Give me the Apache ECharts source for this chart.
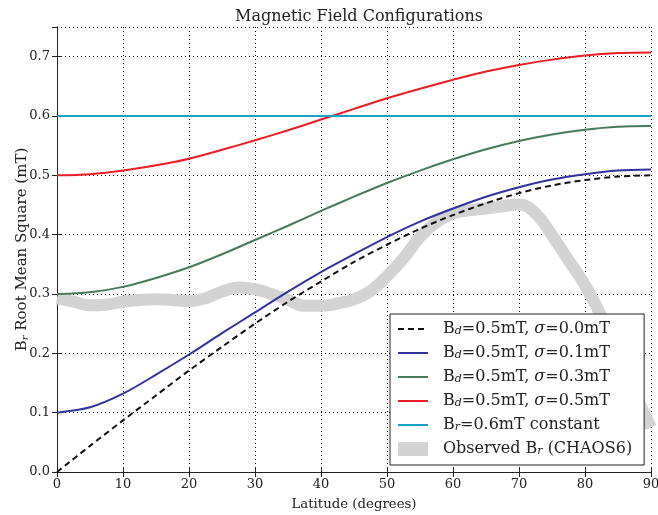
<!DOCTYPE html>
<html>
<head>
<meta charset="utf-8">
<script src="https://cdn.jsdelivr.net/npm/echarts@6/dist/echarts.min.js"></script>
<style>html,body{margin:0;padding:0;background:#fff}#c{width:658px;height:515px}</style>
</head>
<body>
<div id="c"></div>
<script>
// Latitude samples for the model curves (degrees)
const lat = [0,5,10,15,20,25,30,35,40,45,50,55,60,65,70,75,80,85,90];
// Model curves
const sig00 = [0.000,0.044,0.087,0.129,0.171,0.211,0.250,0.287,0.321,0.354,0.383,0.410,0.433,0.453,0.470,0.483,0.492,0.498,0.500];
const sig01 = [0.100,0.109,0.132,0.164,0.198,0.234,0.269,0.304,0.337,0.367,0.396,0.422,0.444,0.464,0.480,0.493,0.502,0.508,0.510];
const sig03 = [0.300,0.303,0.312,0.327,0.345,0.367,0.391,0.415,0.440,0.464,0.487,0.508,0.527,0.544,0.558,0.569,0.577,0.582,0.583];
const sig05 = [0.500,0.502,0.508,0.517,0.528,0.543,0.559,0.576,0.594,0.612,0.630,0.646,0.661,0.675,0.686,0.695,0.702,0.706,0.707];
// Constant field
const constLat = [0, 90];
const constVal = [0.6, 0.6];
// Observed (CHAOS6)
const obsLat = [0,2.5,5,7.5,10,12.5,15,17.5,20,22.5,25,27.5,30,32.5,35,37.5,40,42.5,45,47.5,50,52.5,55,57.5,60,62.5,65,67.5,70,72.5,75,77.5,80,82.5,85,87.5,90];
const obsVal = [0.293,0.287,0.281,0.282,0.287,0.290,0.291,0.290,0.288,0.293,0.304,0.311,0.308,0.300,0.290,0.280,0.280,0.284,0.291,0.305,0.330,0.360,0.396,0.421,0.436,0.441,0.444,0.448,0.451,0.436,0.399,0.357,0.315,0.262,0.200,0.135,0.075];

const xTicks = [0,10,20,30,40,50,60,70,80,90];
const yTicks = [0.0,0.1,0.2,0.3,0.4,0.5,0.6,0.7];

const names = ['Bd=0.5mT, σ=0.0mT','Bd=0.5mT, σ=0.1mT','Bd=0.5mT, σ=0.3mT','Bd=0.5mT, σ=0.5mT','Br=0.6mT constant','Observed Br (CHAOS6)'];
const richNames = {};
richNames[names[0]] = '{g|}B{sub|d}=0.5mT, {it|σ}=0.0mT';
richNames[names[1]] = '{g|}B{sub|d}=0.5mT, {it|σ}=0.1mT';
richNames[names[2]] = '{g|}B{sub|d}=0.5mT, {it|σ}=0.3mT';
richNames[names[3]] = '{g|}B{sub|d}=0.5mT, {it|σ}=0.5mT';
richNames[names[4]] = '{g|}B{sub|r}=0.6mT constant';
richNames[names[5]] = '{g|}Observed B{sub|r} (CHAOS6)';

const FONT = 'DejaVu Serif';
const pairs = (xs, ys) => xs.map((x, i) => [x, ys[i]]);

const chart = echarts.init(document.getElementById('c'), null, {renderer: 'canvas'});

function lineSeries(name, xs, ys, color, dash) {
  return {
    name: name, type: 'line', data: pairs(xs, ys), smooth: 0.3,
    showSymbol: false, symbol: 'none', z: 3,
    lineStyle: {color: color, width: 2, type: dash ? [6, 4] : 'solid'},
    itemStyle: {color: color}
  };
}

const gridLine = {show: true, lineStyle: {color: '#000', width: 1, type: [1, 3]}};
const axLine = {show: true, lineStyle: {color: '#222', width: 1}};
const axTick = {show: true, inside: true, length: 5, lineStyle: {color: '#222', width: 1}};
const hideSym = {opacity: 0};

chart.setOption({
  animation: false,
  backgroundColor: '#fff',
  title: {
    text: 'Magnetic Field Configurations', left: 354, textAlign: 'center', top: 4,
    textStyle: {fontFamily: FONT, fontSize: 16, fontWeight: 'normal', color: '#222'}
  },
  grid: {left: 57, right: 7, top: 27, bottom: 43, show: false, outerBoundsMode: 'none', containLabel: false},
  legend: {
    orient: 'vertical', left: 390, top: 314,
    padding: [7, 12, 8, 7], itemGap: 8, itemWidth: 30, itemHeight: 14,
    backgroundColor: '#fff', borderColor: '#222', borderWidth: 1,
    selectedMode: false,
    data: [
      {name: names[0], itemStyle: hideSym}, {name: names[1], itemStyle: hideSym},
      {name: names[2], itemStyle: hideSym}, {name: names[3], itemStyle: hideSym},
      {name: names[4], itemStyle: hideSym},
      {name: names[5], icon: 'rect', itemStyle: {color: '#d3d3d3'}}
    ],
    formatter: n => richNames[n],
    textStyle: {
      fontFamily: FONT, fontSize: 16, color: '#222', lineHeight: 16,
      rich: {
        g: {width: 10},
        sub: {fontFamily: FONT, fontSize: 11, fontStyle: 'italic', verticalAlign: 'bottom', lineHeight: 11, color: '#222'},
        it: {fontFamily: FONT, fontSize: 16, fontStyle: 'italic', color: '#222'}
      }
    }
  },
  xAxis: [{
    type: 'value', min: 0, max: 90, interval: 10, position: 'bottom',
    name: 'Latitude (degrees)', nameLocation: 'middle', nameGap: 26, nameMoveOverlap: false,
    nameTextStyle: {fontFamily: FONT, fontSize: 13.3, color: '#222'},
    axisLine: axLine, axisTick: axTick, splitLine: gridLine,
    axisLabel: {fontFamily: FONT, fontSize: 13, color: '#222', margin: 6,
      formatter: v => xTicks.includes(v) ? String(v) : ''}
  }, {
    type: 'value', min: 0, max: 90, interval: 10, position: 'top',
    axisLine: axLine, axisTick: axTick, splitLine: {show: false}, axisLabel: {show: false}
  }],
  yAxis: [{
    type: 'value', min: 0, max: 0.75, interval: 0.1, position: 'left',
    name: 'B{r|r} Root Mean Square (mT)', nameLocation: 'middle', nameGap: 27, nameMoveOverlap: false,
    nameTextStyle: {fontFamily: FONT, fontSize: 15, color: '#222',
      rich: {r: {fontFamily: FONT, fontSize: 10, fontStyle: 'italic', verticalAlign: 'bottom', lineHeight: 10, color: '#222'}}},
    axisLine: axLine, axisTick: axTick, splitLine: gridLine,
    axisLabel: {fontFamily: FONT, fontSize: 13, color: '#222', margin: 7, showMaxLabel: false,
      formatter: v => yTicks.some(t => Math.abs(t - v) < 1e-6) ? v.toFixed(1) : ''}
  }, {
    type: 'value', min: 0, max: 0.75, interval: 0.1, position: 'right',
    axisLine: axLine, axisTick: axTick, splitLine: {show: false}, axisLabel: {show: false}
  }],
  series: [
    {
      name: names[5], type: 'line', data: pairs(obsLat, obsVal), smooth: 0.4,
      showSymbol: false, symbol: 'none', z: 2,
      lineStyle: {color: '#d3d3d3', width: 12, cap: 'butt'},
      itemStyle: {color: '#d3d3d3'}
    },
    lineSeries(names[0], lat, sig00, '#111111', true),
    lineSeries(names[1], lat, sig01, '#32329e', false),
    lineSeries(names[2], lat, sig03, '#467a5a', false),
    lineSeries(names[3], lat, sig05, '#ec1c24', false),
    lineSeries(names[4], constLat, constVal, '#1ba0c8', false)
  ]
});
</script>
</body>
</html>
